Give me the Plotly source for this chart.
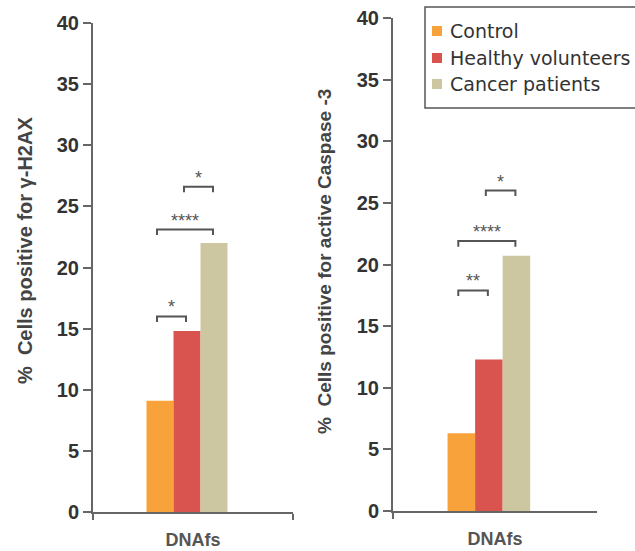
import plotly.graph_objects as go

categories = ["DNAfs"]
groups = ["Control", "Healthy volunteers", "Cancer patients"]
colors = ["#F8A23B", "#D9534F", "#CCC6A1"]
h2ax_values = [9.1, 14.8, 22.0]
casp_values = [6.3, 12.3, 20.7]
y_ticks = [0, 5, 10, 15, 20, 25, 30, 35, 40]

# significance brackets: (group_i, group_j, height, label)
h2ax_sig = [(0, 1, 16.0, "*"), (0, 2, 23.1, "****"), (1, 2, 26.6, "*")]
casp_sig = [(0, 1, 17.9, "**"), (0, 2, 21.9, "****"), (1, 2, 26.0, "*")]

W, H = 635, 551
BAR_W = 0.135
SHIFT = -0.03
AX = "#666666"
TXT = "#333333"


def px(x):
    return x / W


def py(y):
    return 1 - y / H


def centre(k):
    return SHIFT + (k - 1) * BAR_W


fig = go.Figure()

for k, (g, c) in enumerate(zip(groups, colors)):
    for vals, xa, ya in [(h2ax_values, "x", "y"), (casp_values, "x2", "y2")]:
        fig.add_trace(go.Bar(
            x=categories, y=[vals[k]], name=g, marker=dict(color=c, line=dict(width=0)),
            width=BAR_W, offset=SHIFT + (k - 1.5) * BAR_W,
            xaxis=xa, yaxis=ya, showlegend=False,
        ))

shapes = []
annotations = []
for sig, xr, yr in [(h2ax_sig, "x", "y"), (casp_sig, "x2", "y2")]:
    for i, j, h, lab in sig:
        x0 = centre(i) - 0.015
        x1 = centre(j) - 0.005
        shapes.append(dict(
            type="path", xref=xr, yref=yr,
            path=f"M {x0} {h-0.45} L {x0} {h} L {x1} {h} L {x1} {h-0.45}",
            line=dict(color="#555555", width=2),
        ))
        annotations.append(dict(
            x=(x0 + x1) / 2, y=h, xref=xr, yref=yr, text=lab, showarrow=False,
            xanchor="center", yanchor="bottom", yshift=-3,
            font=dict(family="Liberation Sans", size=18, color="#555555"),
        ))

# axis titles
title_font = dict(family="Liberation Sans", size=19, color="#444444", weight="bold")
annotations.append(dict(
    x=px(25), y=py(251), xref="paper", yref="paper", textangle=-90,
    xanchor="center", yanchor="middle",
    text="%  Cells positive for \u03b3-H2AX", showarrow=False,
    font=dict(title_font, size=20),
))
annotations.append(dict(
    x=px(324), y=py(262), xref="paper", yref="paper", textangle=-90,
    xanchor="center", yanchor="middle",
    text="%  Cells positive for active Caspase -3", showarrow=False, font=title_font,
))

# legend (box, colour squares, labels)
shapes.append(dict(
    type="rect", xref="paper", yref="paper",
    x0=px(425), x1=px(660), y0=py(108), y1=py(7),
    line=dict(color="#555555", width=1.5), fillcolor="white", layer="below",
))
leg_y = [31, 58, 84]
for g, c, yy in zip(groups, colors, leg_y):
    shapes.append(dict(
        type="rect", xref="paper", yref="paper",
        x0=px(432), x1=px(442), y0=py(yy + 5), y1=py(yy - 5),
        line=dict(width=0), fillcolor=c,
    ))
    annotations.append(dict(
        x=px(448), y=py(yy), xref="paper", yref="paper", text=g, showarrow=False,
        xanchor="left", yanchor="middle",
        font=dict(family="DejaVu Sans", size=19, color=TXT),
    ))

yax = dict(
    range=[0, 40], tickvals=y_ticks, showline=True, linecolor=AX, linewidth=2,
    ticks="outside", ticklen=8, tickwidth=2, tickcolor=AX, showgrid=False, zeroline=False,
    automargin=False,
    tickfont=dict(family="Liberation Sans", size=20, color=TXT, weight="bold"),
)
xax = dict(
    range=[-0.5, 0.5], showline=True, linecolor=AX, linewidth=2,
    ticks="outside", tickson="boundaries", ticklen=6, tickwidth=2, tickcolor=AX,
    showgrid=False, zeroline=False, automargin=False, ticklabelstandoff=10,
    tickfont=dict(family="Liberation Sans", size=18, color="#555555", weight="bold"),
)

fig.update_layout(
    width=W, height=H, margin=dict(l=0, r=0, t=0, b=0, autoexpand=False),
    paper_bgcolor="white", plot_bgcolor="white",
    barmode="group", bargap=0.595, showlegend=False,
    xaxis=dict(xax, domain=[px(93), px(293)], anchor="y"),
    yaxis=dict(yax, domain=[py(512), py(23)], anchor="x"),
    xaxis2=dict(xax, domain=[px(393), px(597)], anchor="y2"),
    yaxis2=dict(yax, domain=[py(511), py(18)], anchor="x2"),
    shapes=shapes, annotations=annotations,
)

fig.write_html(
    "out.html",
    config={"displayModeBar": False},
    post_script="document.body.style.margin='0';document.body.style.overflow='hidden';",
)
